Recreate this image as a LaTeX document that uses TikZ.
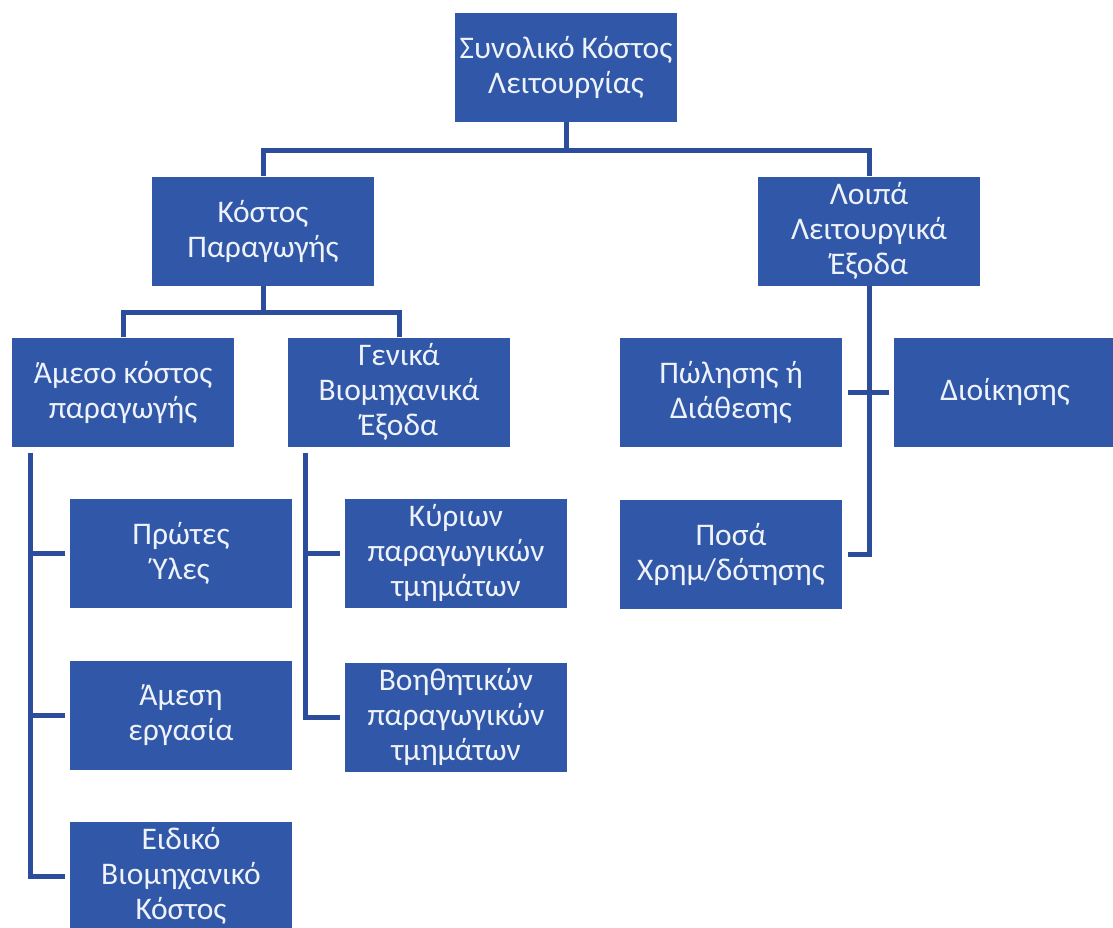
\documentclass[tikz,border=0pt]{standalone}
\usepackage{fontspec}
\setmainfont{Carlito}
\begin{document}
\definecolor{boxblue}{HTML}{3157A8}
\definecolor{linkblue}{HTML}{2C4C9C}
\definecolor{boxtext}{HTML}{EEF2FA}
\begin{tikzpicture}[x=1pt,y=-1pt,
  box/.style={rectangle, fill=boxblue, text=boxtext, align=center,
    minimum width=222pt, minimum height=109pt, inner sep=0pt,
    font=\fontsize{31.5}{35}\selectfont},
  link/.style={draw=linkblue, line width=5pt},
  branch/.style={link, shorten >=5pt}]
\useasboundingbox (0,0) rectangle (1113,927);
\fill[white] (0,0) rectangle (1113,927);

% top level
\node[box] (tot) at (566,67) {Συνολικό Κόστος\\Λειτουργίας};
% second level
\node[box] (kp) at (263,231) {Κόστος\\Παραγωγής};
\node[box] (lle) at (869,231) {Λοιπά\\Λειτουργικά\\Έξοδα};
% production cost branches
\node[box] (amk) at (123,392) {Άμεσο κόστος\\παραγωγής};
\node[box] (gbe) at (399,392) {Γενικά\\Βιομηχανικά\\Έξοδα};
\node[box] (pyl) at (181,553) {Πρώτες\\Ύλες};
\node[box] (aer) at (181,715) {Άμεση\\εργασία};
\node[box] (ebk) at (181,876) {Ειδικό\\Βιομηχανικό\\Κόστος};
\node[box] (kyr) at (456,553) {Κύριων\\παραγωγικών\\τμημάτων};
\node[box] (boi) at (456,717) {Βοηθητικών\\παραγωγικών\\τμημάτων};
% other operating expenses
\node[box] (pol) at (731,392) {Πώλησης ή\\Διάθεσης};
\node[box] (dio) at (1005,392) {Διοίκησης};
\node[box] (pos) at (731,554) {Ποσά\\Χρημ/δότησης};

% spines
\coordinate (top) at ([xshift=19pt,yshift=-6pt]amk.south west);
\coordinate (gtop) at ([xshift=18pt,yshift=-6pt]gbe.south west);

% connectors
\draw[link] (tot.south) -- ++(0,29) coordinate (tj);
\draw[link] (kp.north) |- (tj) -| (lle.north);
\draw[link] (kp.south) -- ++(0,27) coordinate (kj);
\draw[link] (amk.north) |- (kj) -| (gbe.north);

\draw[link] (top) |- ([xshift=-5pt]ebk.west);
\draw[branch] (top |- pyl.west) -- (pyl.west);
\draw[branch] (top |- aer.west) -- (aer.west);

\draw[link] (gtop) |- ([xshift=-5pt]boi.west);
\draw[branch] (gtop |- kyr.west) -- (kyr.west);

\draw[link] (lle.south) |- ([xshift=6pt]pos.east);
\draw[link, shorten <=6pt, shorten >=5pt] (pol.east) -- (dio.west);
\end{tikzpicture}
\end{document}
